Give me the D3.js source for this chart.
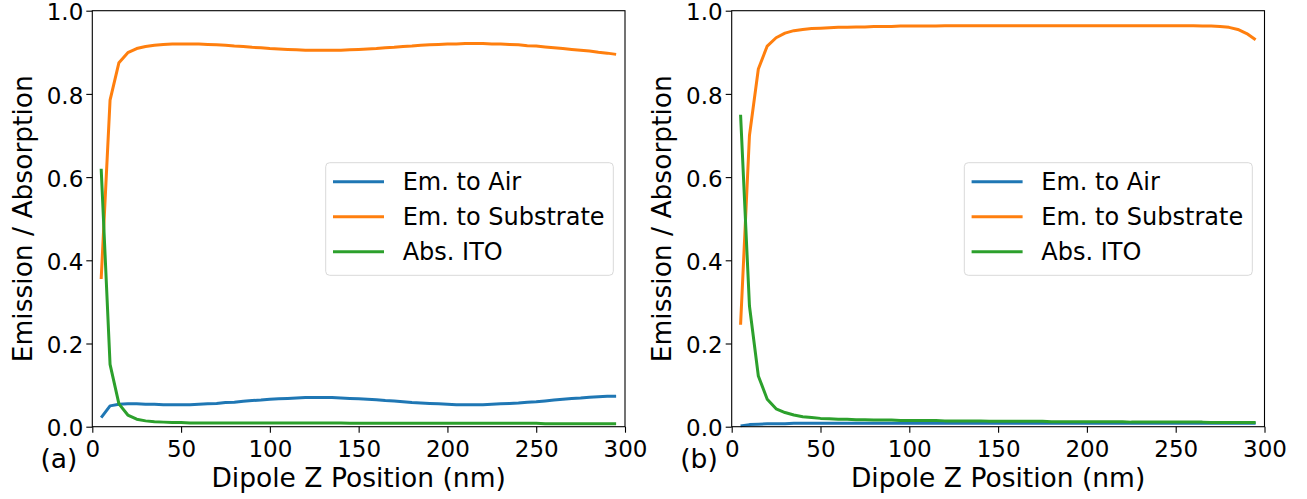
<!DOCTYPE html>
<html>
<head>
<meta charset="utf-8">
<script src="https://cdn.jsdelivr.net/npm/d3@7"></script>
<style>
  body { margin: 0; background: #fff; }
  svg { display: block; }
</style>
</head>
<body>
<div id="chart"></div>
<script>
//data
const positions = [5, 10, 15, 20, 25, 30, 35, 40, 45, 50, 55, 60, 65, 70, 75, 80, 85, 90, 95, 100,
	105, 110, 115, 120, 125, 130, 135, 140, 145, 150, 155, 160, 165, 170, 175, 180, 185, 190, 195, 200,
	205, 210, 215, 220, 225, 230, 235, 240, 245, 250, 255, 260, 265, 270, 275, 280, 285, 290, 295];

const seriesNames = ['Em. to Air', 'Em. to Substrate', 'Abs. ITO'];
const xTicks = [0, 50, 100, 150, 200, 250, 300];
const yTicks = [0, 0.2, 0.4, 0.6, 0.8, 1.0];

// panel (a)
const airA = [0.022, 0.050, 0.054, 0.055, 0.055, 0.054, 0.054, 0.053, 0.053, 0.053, 0.053, 0.054, 0.055, 0.056, 0.058, 0.059, 0.061, 0.063, 0.064, 0.066,
	0.067, 0.068, 0.069, 0.070, 0.070, 0.070, 0.070, 0.069, 0.068, 0.067, 0.066, 0.065, 0.063, 0.062, 0.060, 0.058, 0.057, 0.056, 0.055, 0.054,
	0.053, 0.053, 0.053, 0.053, 0.054, 0.055, 0.056, 0.057, 0.059, 0.060, 0.062, 0.064, 0.066, 0.068, 0.069, 0.071, 0.072, 0.073, 0.073];
const substrateA = [0.355, 0.785, 0.875, 0.899, 0.909, 0.914, 0.917, 0.919, 0.920, 0.920, 0.920, 0.920, 0.919, 0.918, 0.917, 0.915, 0.914, 0.912, 0.911, 0.909,
	0.908, 0.907, 0.906, 0.905, 0.905, 0.905, 0.905, 0.905, 0.906, 0.907, 0.908, 0.909, 0.911, 0.912, 0.914, 0.915, 0.917, 0.918, 0.919, 0.920,
	0.920, 0.921, 0.921, 0.921, 0.920, 0.920, 0.919, 0.918, 0.916, 0.915, 0.913, 0.911, 0.909, 0.907, 0.905, 0.903, 0.900, 0.898, 0.895];
const itoA = [0.620, 0.150, 0.055, 0.028, 0.018, 0.014, 0.012, 0.011, 0.010, 0.010, 0.009, 0.009, 0.009, 0.009, 0.009, 0.009, 0.009, 0.009, 0.009, 0.009,
	0.009, 0.009, 0.009, 0.009, 0.009, 0.009, 0.009, 0.009, 0.008, 0.008, 0.008, 0.008, 0.008, 0.008, 0.008, 0.008, 0.008, 0.008, 0.008, 0.008,
	0.008, 0.008, 0.008, 0.008, 0.008, 0.008, 0.008, 0.008, 0.008, 0.008, 0.007, 0.007, 0.007, 0.007, 0.007, 0.007, 0.007, 0.007, 0.007];

// panel (b)
const airB = [0.002, 0.005, 0.006, 0.007, 0.007, 0.007, 0.008, 0.008, 0.008, 0.008, 0.008, 0.008, 0.008, 0.008, 0.008, 0.008, 0.008, 0.008, 0.008, 0.008,
	0.008, 0.008, 0.008, 0.008, 0.008, 0.008, 0.008, 0.008, 0.008, 0.008, 0.008, 0.008, 0.008, 0.008, 0.008, 0.008, 0.008, 0.008, 0.008, 0.008,
	0.008, 0.008, 0.008, 0.008, 0.008, 0.008, 0.008, 0.008, 0.008, 0.008, 0.008, 0.008, 0.008, 0.008, 0.008, 0.008, 0.008, 0.008, 0.008];
const substrateB = [0.245, 0.700, 0.860, 0.915, 0.935, 0.946, 0.952, 0.955, 0.957, 0.958, 0.959, 0.960, 0.960, 0.961, 0.961, 0.962, 0.962, 0.962, 0.963, 0.963,
	0.963, 0.963, 0.963, 0.964, 0.964, 0.964, 0.964, 0.964, 0.964, 0.964, 0.964, 0.964, 0.964, 0.964, 0.964, 0.964, 0.964, 0.964, 0.964, 0.964,
	0.964, 0.964, 0.964, 0.964, 0.964, 0.964, 0.964, 0.964, 0.964, 0.964, 0.964, 0.964, 0.963, 0.963, 0.962, 0.960, 0.955, 0.945, 0.930];
const itoB = [0.750, 0.290, 0.122, 0.066, 0.043, 0.034, 0.028, 0.024, 0.022, 0.020, 0.019, 0.018, 0.018, 0.017, 0.017, 0.016, 0.016, 0.016, 0.015, 0.015,
	0.015, 0.015, 0.015, 0.014, 0.014, 0.014, 0.014, 0.014, 0.013, 0.013, 0.013, 0.013, 0.013, 0.013, 0.013, 0.012, 0.012, 0.012, 0.012, 0.012,
	0.012, 0.012, 0.012, 0.012, 0.011, 0.011, 0.011, 0.011, 0.011, 0.011, 0.011, 0.011, 0.011, 0.010, 0.010, 0.010, 0.010, 0.010, 0.010];

render();

function render() {
	let props = {
		width: 1307,
		height: 499,
		top: 10.7,
		bottom: 426.7,
		colors: ['#1f77b4', '#ff7f0e', '#2ca02c'],
		font: 'DejaVu Sans, sans-serif',
		tickSize: 23,
		labelSize: 26.5,
		legendSize: 24,
	};

	let svg = d3.select('#chart')
		.append('svg')
		.attr('width', props.width)
		.attr('height', props.height);

	drawPanel(svg, props, {
		left: 92.3, right: 625, tag: '(a)', tagX: 59, yLabelX: 22,
		legend: { x: 325.7, y: 162.7, w: 287.6, h: 112.6 },
		series: [airA, substrateA, itoA],
	});
	drawPanel(svg, props, {
		left: 731.7, right: 1264.5, tag: '(b)', tagX: 699, yLabelX: 661,
		legend: { x: 964.3, y: 162.7, w: 288, h: 112.6 },
		series: [airB, substrateB, itoB],
	});
}

function drawPanel(svg, props, panel) {
	let { top, bottom, colors, font } = props;

	let x = d3.scaleLinear().domain([0, 300]).range([panel.left, panel.right]);
	let y = d3.scaleLinear().domain([0, 1]).range([bottom, top]);

	let g = svg.append('g');

	let line = d3.line()
		.x((d) => x(d[0]))
		.y((d) => y(d[1]));

	//lines
	g.append('g')
		.selectAll('path')
		.data(panel.series)
		.enter()
		.append('path')
		.attr('d', (s) => line(positions.map((p, i) => [p, s[i]])))
		.attr('fill', 'none')
		.attr('stroke', (d, i) => colors[i])
		.attr('stroke-width', 3)
		.attr('stroke-linejoin', 'round');

	//axes
	let xAxis = g.append('g')
		.attr('transform', translation(0, bottom))
		.call(d3.axisBottom(x).tickValues(xTicks).tickSize(6).tickPadding(8).tickFormat(d3.format('d')));
	let yAxis = g.append('g')
		.attr('transform', translation(panel.left, 0))
		.call(d3.axisLeft(y).tickValues(yTicks).tickSize(6).tickPadding(3).tickFormat(d3.format('.1f')));

	[xAxis, yAxis].forEach((a) => {
		a.select('.domain').remove();
		a.selectAll('.tick line').attr('stroke', '#000').attr('stroke-width', 1.1);
		a.selectAll('.tick text')
			.attr('font-family', font)
			.attr('font-size', props.tickSize)
			.attr('fill', '#000');
	});
	yAxis.selectAll('.tick text').attr('dy', '0.4em');

	//frame
	g.append('rect')
		.attr('x', panel.left)
		.attr('y', top)
		.attr('width', panel.right - panel.left)
		.attr('height', bottom - top)
		.attr('fill', 'none')
		.attr('stroke', '#000')
		.attr('stroke-width', 1.1);

	//labels
	g.append('text')
		.attr('x', (panel.left + panel.right) / 2)
		.attr('y', 487)
		.attr('text-anchor', 'middle')
		.attr('font-family', font)
		.attr('font-size', props.labelSize)
		.text('Dipole Z Position (nm)');

	g.append('text')
		.attr('transform', `translate(${panel.yLabelX}, ${(top + bottom) / 2}) rotate(-90)`)
		.attr('text-anchor', 'middle')
		.attr('dominant-baseline', 'central')
		.attr('font-family', font)
		.attr('font-size', props.labelSize)
		.text('Emission / Absorption');

	g.append('text')
		.attr('x', panel.tagX)
		.attr('y', 468)
		.attr('text-anchor', 'middle')
		.attr('font-family', font)
		.attr('font-size', props.labelSize)
		.text(panel.tag);

	//legend
	let lg = panel.legend;
	let legend = g.append('g').attr('transform', translation(lg.x, lg.y));
	legend.append('rect')
		.attr('width', lg.w)
		.attr('height', lg.h)
		.attr('rx', 4)
		.attr('fill', '#fff')
		.attr('fill-opacity', 0.8)
		.attr('stroke', '#d9d9d9')
		.attr('stroke-width', 1);

	let item = legend.selectAll('.item')
		.data(seriesNames)
		.enter()
		.append('g')
		.attr('class', 'item')
		.attr('transform', (d, i) => translation(0, 19 + i * 35));

	item.append('line')
		.attr('x1', 7.3)
		.attr('x2', 58.3)
		.attr('stroke', (d, i) => colors[i])
		.attr('stroke-width', 3);

	item.append('text')
		.attr('x', 77)
		.attr('dominant-baseline', 'central')
		.attr('font-family', font)
		.attr('font-size', props.legendSize)
		.attr('fill', '#000')
		.text((d) => d);
}

//utils
function translation(x, y) {
	return `translate(${x}, ${y})`;
}
</script>
</body>
</html>
